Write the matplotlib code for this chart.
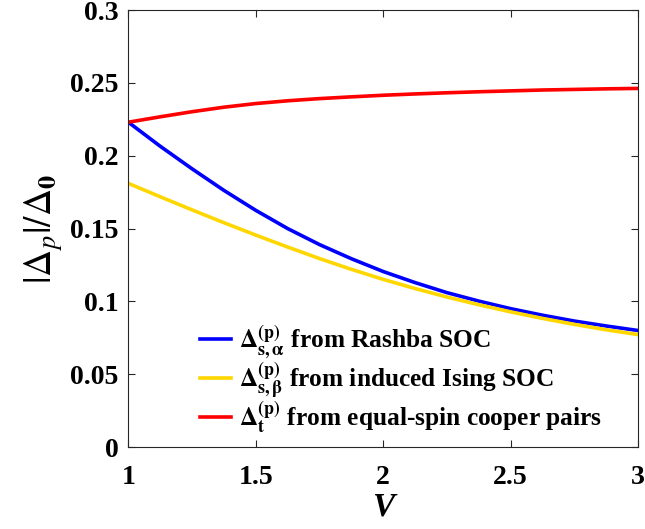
import numpy as np
import matplotlib
matplotlib.use('Agg')
import matplotlib.pyplot as plt

plt.rcParams['font.family'] = ['Liberation Serif', 'DejaVu Serif']
plt.rcParams['mathtext.fontset'] = 'stix'

# значения
V = np.array([1.0, 1.125, 1.25, 1.375, 1.5, 1.625, 1.75, 1.875, 2.0,
              2.125, 2.25, 2.375, 2.5, 2.625, 2.75, 2.875, 3.0])
rashba = np.array([0.223, 0.2065, 0.191, 0.1762, 0.1625, 0.150, 0.139, 0.1293, 0.1205,
                   0.1129, 0.106, 0.1002, 0.095, 0.0905, 0.0865, 0.0831, 0.080])
ising = np.array([0.181, 0.1718, 0.1628, 0.154, 0.1455, 0.1373, 0.1294, 0.122, 0.1151,
                  0.1088, 0.103, 0.0977, 0.0928, 0.0883, 0.0842, 0.0805, 0.0772])
triplet = np.array([0.223, 0.2267, 0.2302, 0.2333, 0.2358, 0.2377, 0.2392, 0.2404, 0.2415,
                    0.2424, 0.2432, 0.2439, 0.2445, 0.2451, 0.2455, 0.2459, 0.2462])

labels = [r'$\mathbf{\Delta^{(p)}_{s,\alpha}}$ from Rashba SOC',
          r'$\mathbf{\Delta^{(p)}_{s,\beta}}$ from induced Ising SOC',
          r'$\mathbf{\Delta^{(p)}_{t}}$ from equal-spin cooper pairs']
colors = ['#0000ff', '#ffd700', '#ff0000']

xticks = [1, 1.5, 2, 2.5, 3]
xticklabels = ['1', '1.5', '2', '2.5', '3']
yticks = [0, 0.05, 0.1, 0.15, 0.2, 0.25, 0.3]
yticklabels = ['0', '0.05', '0.1', '0.15', '0.2', '0.25', '0.3']

fig = plt.figure(figsize=(6.45, 5.29), dpi=100)
ax = fig.add_axes([0.199, 0.155, 0.79, 0.826])

for y, c, lab in zip([rashba, ising, triplet], colors, labels):
    ax.plot(V, y, color=c, lw=2.6, label=lab)

ax.set_xlim(1, 3)
ax.set_ylim(0, 0.3)
ax.set_xticks(xticks)
ax.set_xticklabels(xticklabels, fontweight='bold')
ax.set_yticks(yticks)
ax.set_yticklabels(yticklabels, fontweight='bold')
ax.tick_params(direction='in', length=5, width=0.8, labelsize=20,
               top=True, right=True, colors='#262626', labelcolor='black')
ax.tick_params(axis='x', pad=13)
ax.tick_params(axis='y', pad=7)
for s in ax.spines.values():
    s.set_color('#262626')
    s.set_linewidth(0.8)

ax.set_xlabel('V', fontsize=24, fontstyle='italic', fontweight='bold', labelpad=1)
ax.set_ylabel(r'$|\Delta_p|/\Delta_\mathbf{0}$', fontsize=27, labelpad=4)

ax.legend(loc='lower left', bbox_to_anchor=(0.11, -0.01), frameon=False,
          prop={'size': 18.3, 'weight': 'bold'}, handlelength=1.25,
          handletextpad=0.3, labelspacing=-0.05, borderaxespad=0.2)

fig.savefig('out.png', dpi=100)
